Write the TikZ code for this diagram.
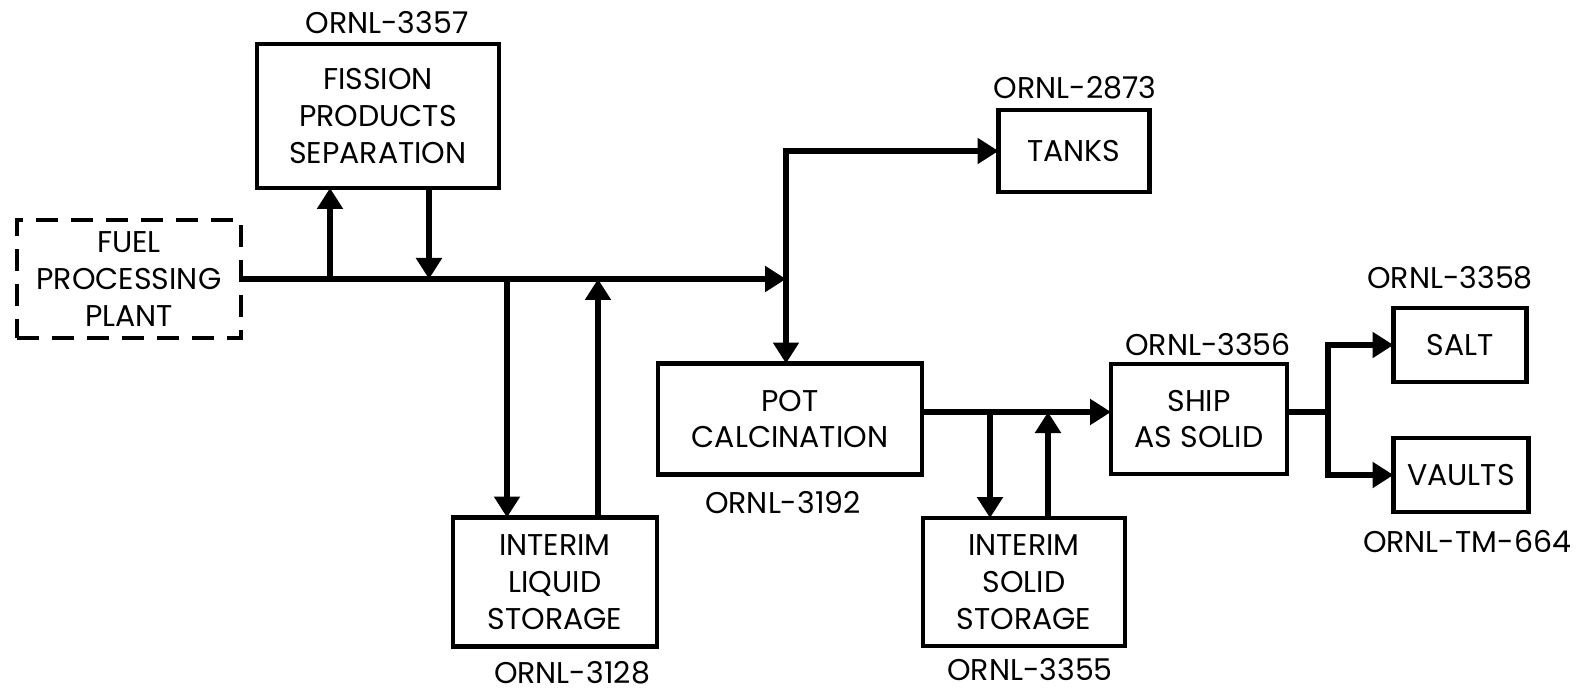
\documentclass[tikz,border=0pt]{standalone}
\usepackage{fontspec}
\setmainfont{Poppins}
\usetikzlibrary{arrows.meta}
\begin{document}
\begin{tikzpicture}[x=1pt,y=-1pt,
  every node/.style={font=\fontsize{30}{36.7}\selectfont, inner sep=0pt, outer sep=0pt},
  box/.style={draw, line width=4.5pt, align=center},
  dbox/.style={box, dash pattern=on 22pt off 13pt},
  lbl/.style={anchor=center},
  link/.style={line width=5.5pt},
  arr/.style={link, -{Triangle[length=21pt,width=25pt]}}]
\useasboundingbox (0,0) rectangle (1581,692);
% boxes
\node[dbox, minimum width=224pt, minimum height=118pt] (fuel) at (129,279) {FUEL\\PROCESSING\\PLANT};
\node[box, minimum width=242pt, minimum height=144pt] (fission) at (378,116) {FISSION\\PRODUCTS\\SEPARATION};
\node[box, minimum width=204pt, minimum height=129pt] (liquid) at (555,582) {INTERIM\\LIQUID\\STORAGE};
\node[box, minimum width=264pt, minimum height=111pt] (pot) at (790,419) {POT\\CALCINATION};
\node[box, minimum width=151pt, minimum height=82pt] (tanks) at (1074,151) {TANKS};
\node[box, minimum width=202pt, minimum height=128pt] (solid) at (1024,582) {INTERIM\\SOLID\\STORAGE};
\node[box, minimum width=176pt, minimum height=110pt] (ship) at (1199,419) {SHIP\\AS SOLID};
\node[box, minimum width=133pt, minimum height=74pt] (salt) at (1460,345) {SALT};
\node[box, minimum width=135pt, minimum height=74pt] (vaults) at (1461,475) {VAULTS};
% labels
\node[lbl] (l3357) at (387,23) {ORNL-3357};
\node[lbl] (l3128) at (572,673) {ORNL-3128};
\node[lbl] (l3192) at (783,503) {ORNL-3192};
\node[lbl] (l2873) at (1075,88) {ORNL-2873};
\node[lbl] (l3355) at (1030,670) {ORNL-3355};
\node[lbl] (l3356) at (1208,345) {ORNL-3356};
\node[lbl] (l3358) at (1450,278) {ORNL-3358};
\node[lbl] (l664) at (1467,542) {ORNL-TM-664};
% junction coordinates
\coordinate (top) at (786,151);
\coordinate (a1) at (330,279);
\coordinate (a2) at (429,279);
\coordinate (a3) at (507,279);
\coordinate (a4) at (598,279);
\coordinate (b1) at (990,412);
\coordinate (b2) at (1048,412);
\coordinate (sj) at (1328,412);
% connectors
\draw[arr] (fuel.east) -- (top |- fuel.east);
\draw[arr] (a1) -- (a1 |- fission.south);
\draw[arr] (a2 |- fission.south) -- (a2);
\draw[arr] (a3) -- (a3 |- liquid.north);
\draw[arr] (a4 |- liquid.north) -- (a4);
\draw[arr] (top) -- (top |- pot.north);
\draw[arr] ([xshift=-2.75pt]top) -- (top -| tanks.west);
\draw[arr] (pot.east |- b1) -- (ship.west |- b1);
\draw[arr] (b1) -- (b1 |- solid.north);
\draw[arr] (b2 |- solid.north) -- (b2);
\draw[link] (ship.east |- sj) -- (sj);
\draw[arr] (sj) -- (sj |- salt.west) -- (salt.west);
\draw[arr] (sj) -- (sj |- vaults.west) -- (vaults.west);
\end{tikzpicture}
\end{document}
